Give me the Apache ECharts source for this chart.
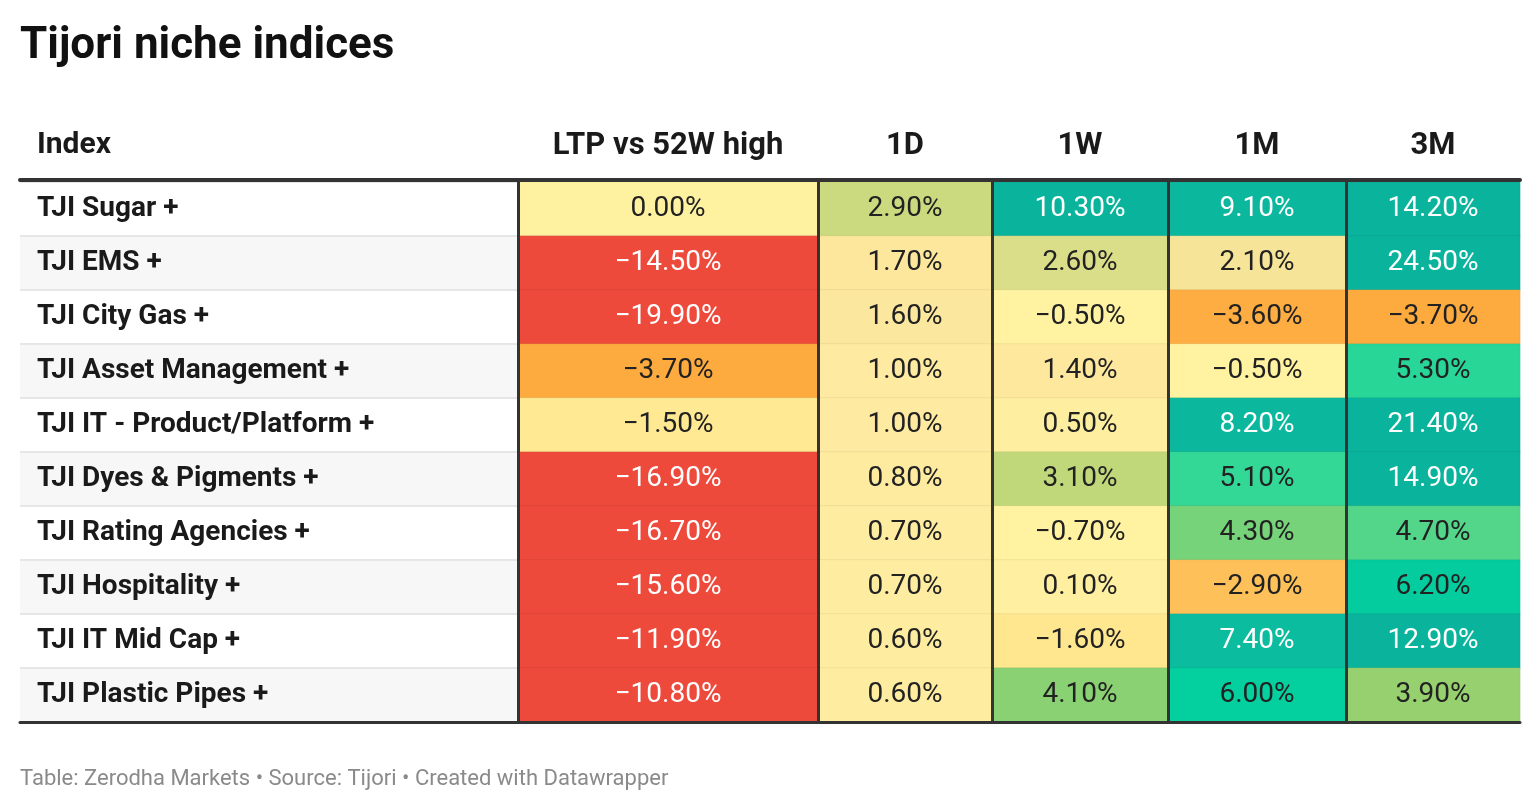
<!DOCTYPE html>
<html><head><meta charset="utf-8">
<script src="https://cdn.jsdelivr.net/npm/echarts@6/dist/echarts.min.js"></script>
<style>html,body{margin:0;padding:0;background:#fff}#c{width:1540px;height:810px}</style>
</head><body><div id="c"></div><script>
// ---- data ----
const indices = ['TJI Sugar +','TJI EMS +','TJI City Gas +','TJI Asset Management +','TJI IT - Product/Platform +','TJI Dyes & Pigments +','TJI Rating Agencies +','TJI Hospitality +','TJI IT Mid Cap +','TJI Plastic Pipes +'];
const columns = ['LTP vs 52W high','1D','1W','1M','3M'];
const ltpVs52wHigh = [0.0,-14.5,-19.9,-3.7,-1.5,-16.9,-16.7,-15.6,-11.9,-10.8];
const oneDay = [2.9,1.7,1.6,1.0,1.0,0.8,0.7,0.7,0.6,0.6];
const oneWeek = [10.3,2.6,-0.5,1.4,0.5,3.1,-0.7,0.1,-1.6,4.1];
const oneMonth = [9.1,2.1,-3.6,-0.5,8.2,5.1,4.3,-2.9,7.4,6.0];
const threeMonth = [14.2,24.5,-3.7,5.3,21.4,14.9,4.7,6.2,12.9,3.9];
const columnValues = [ltpVs52wHigh, oneDay, oneWeek, oneMonth, threeMonth];

// ---- layout / style ----
const FONT = 'Roboto';
const colEdges = [20, 518, 818, 992, 1168, 1346, 1520];
const gridTop = 182, gridBottomY = 722;
const DARK = '#333333';

const grids = [], xAxes = [], yAxes = [], series = [];
for (let g = 0; g < 6; g++) {
  grids.push({left: colEdges[g], width: colEdges[g+1]-colEdges[g], top: gridTop, height: gridBottomY-gridTop, containLabel: false});
  // top axis (header + top rule)
  xAxes.push({
    type: 'category', gridIndex: g, position: 'top', z: 11, offset: 2,
    data: g === 0 ? [''] : [columns[g-1]],
    axisLine: {show: true, lineStyle: {color: DARK, width: 4}},
    axisTick: {show: false},
    axisLabel: {show: g !== 0, margin: 18, fontFamily: FONT, fontWeight: 'bold', fontSize: 31, color: '#1a1a1a'},
    splitLine: {show: false}
  });
  // bottom axis (bottom rule)
  xAxes.push({
    type: 'category', gridIndex: g, position: 'bottom', z: 11,
    data: [''],
    axisLine: {show: true, lineStyle: {color: DARK, width: 3}},
    axisTick: {show: false}, axisLabel: {show: false}, splitLine: {show: false}
  });
  yAxes.push({
    type: 'category', gridIndex: g, inverse: true, z: 10,
    data: indices,
    axisLine: {show: g !== 0, lineStyle: {color: DARK, width: 3}},
    axisTick: {show: false},
    axisLabel: g === 0 ? {show: true, inside: true, margin: 17, fontFamily: FONT, fontWeight: 'bold', fontSize: 28, color: '#1a1a1a'} : {show: false},
    splitLine: {show: g === 0, lineStyle: {color: '#e6e6e6', width: 2}},
    splitArea: {show: g === 0, areaStyle: {color: ['#ffffff', '#f7f7f7']}}
  });
}

function fmt(v) { return (v < 0 ? '\u2212' : '') + Math.abs(v).toFixed(2) + '%'; }
function textColor(v) { return (v <= -5 || v >= 7) ? '#ffffff' : '#222222'; }

columnValues.forEach((vals, c) => {
  series.push({
    type: 'heatmap',
    xAxisIndex: (c+1)*2, yAxisIndex: c+1,
    data: vals.map((v, r) => ({value: [0, r, v], label: {color: textColor(v)}})),
    label: {show: true, fontFamily: FONT, fontSize: 28, formatter: p => fmt(p.value[2])},
    itemStyle: {borderColor: 'rgba(0,0,0,0.05)', borderWidth: 1},
    emphasis: {disabled: true}
  });
});

const chart = echarts.init(document.getElementById('c'));
chart.setOption({
  backgroundColor: '#ffffff',
  animation: false,
  title: [
    {text: 'Tijori niche indices', left: 20, top: 25, padding: 0, textStyle: {fontFamily: FONT, fontWeight: 'bold', fontSize: 44, color: '#111111'}},
    {text: 'Index', left: 37, top: 130, padding: 0, textStyle: {fontFamily: FONT, fontWeight: 'bold', fontSize: 30, color: '#1a1a1a'}},
    {text: 'Table: Zerodha Markets \u2022 Source: Tijori \u2022 Created with Datawrapper', left: 20, top: 768, padding: 0, textStyle: {fontFamily: FONT, fontWeight: 'normal', fontSize: 22, color: '#8a8a8a'}}
  ],
  grid: grids, xAxis: xAxes, yAxis: yAxes,
  visualMap: {
    type: 'continuous', show: false, seriesIndex: [0,1,2,3,4], dimension: 2,
    min: -6, max: 10,
    inRange: {color: ['#ee4a3c','#f37a3a','#fca335','#febd55','#fee083','#fff2a0','#fef1a0','#feeaa0','#fbe59c','#c6d97b','#92d06e','#38d996','#04cf9e','#0bbf9f','#0bb89e','#0bb89e','#0ab49c']}
  },
  series: series
});
</script></body></html>
